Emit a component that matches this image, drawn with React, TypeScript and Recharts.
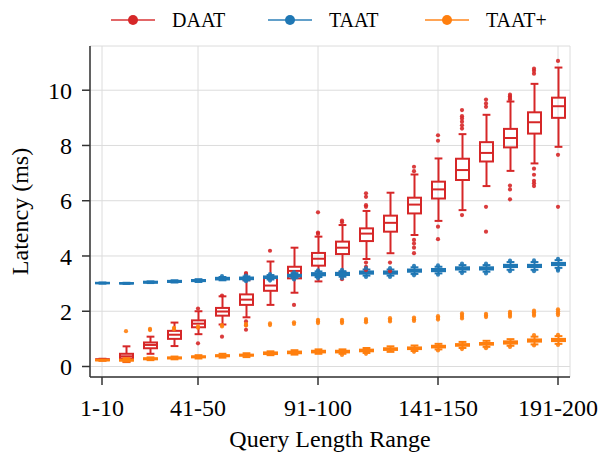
import React from "react";
import { Bar, CartesianGrid, ComposedChart, Legend, Scatter, XAxis, YAxis } from "recharts";

const CATEGORIES = [
  "1-10", "11-20", "21-30", "31-40", "41-50", "51-60", "61-70", "71-80", "81-90", "91-100",
  "101-110", "111-120", "121-130", "131-140", "141-150", "151-160", "161-170", "171-180", "181-190", "191-200",
];
const X_TICKS = [0, 4, 9, 14, 19];
const Y_TICKS = [0, 2, 4, 6, 8, 10];

// DAAT
const DAAT_LO = [0.22, 0.16, 0.46, 0.74, 1.17, 1.52, 1.78, 2.23, 2.67, 3.08, 3.42, 3.89, 4.1, 4.76, 5.27, 5.66, 6.53, 7.08, 7.35, 7.95];
const DAAT_Q1 = [0.24, 0.29, 0.66, 1.0, 1.42, 1.84, 2.23, 2.74, 3.19, 3.65, 4.07, 4.54, 4.88, 5.54, 6.08, 6.75, 7.42, 7.93, 8.43, 9.0];
const DAAT_MED = [0.25, 0.37, 0.78, 1.15, 1.55, 1.99, 2.42, 2.93, 3.46, 3.9, 4.3, 4.81, 5.2, 5.86, 6.41, 7.11, 7.73, 8.27, 8.84, 9.42];
const DAAT_Q3 = [0.26, 0.46, 0.87, 1.29, 1.67, 2.12, 2.61, 3.24, 3.61, 4.11, 4.52, 5.0, 5.46, 6.11, 6.69, 7.52, 8.12, 8.6, 9.2, 9.73];
const DAAT_HI = [0.28, 0.73, 1.08, 1.59, 2.0, 2.54, 3.12, 3.8, 4.3, 4.7, 5.12, 5.63, 6.29, 6.95, 7.53, 8.41, 9.11, 9.59, 10.23, 10.82];
const DAAT_OUT = [
  [], [], [], [], [2.1, 0.84], [2.57, 1.08], [3.34, 3.38, 1.63, 1.5, 1.33], [4.19], [2.23], [5.58, 4.85, 4.8],
  [5.22, 5.28, 3.16], [6.27, 6.14, 5.84, 5.78, 3.76, 3.61, 3.49], [3.76, 3.45], [7.23, 7.07, 4.58, 4.45, 4.3, 4.1],
  [8.37, 8.17, 5.06, 4.61], [9.28, 9.06, 8.98, 8.86, 8.73, 8.61, 5.48], [9.66, 9.52, 9.4, 5.78, 4.88],
  [9.84, 9.78, 9.72, 9.66, 6.55, 6.41, 6.05], [10.78, 10.7, 10.6, 7.16, 6.94, 6.72, 6.63, 6.53], [11.06, 7.66, 5.78],
];

// TAAT
const TAAT_LO = [3.0, 2.99, 3.02, 3.04, 3.06, 3.12, 3.12, 3.15, 3.2, 3.24, 3.25, 3.29, 3.29, 3.35, 3.37, 3.43, 3.43, 3.5, 3.5, 3.57];
const TAAT_Q1 = [3.01, 3.0, 3.03, 3.06, 3.09, 3.15, 3.16, 3.2, 3.26, 3.3, 3.31, 3.36, 3.36, 3.43, 3.45, 3.51, 3.51, 3.6, 3.6, 3.67];
const TAAT_MED = [3.02, 3.01, 3.05, 3.08, 3.11, 3.18, 3.19, 3.23, 3.29, 3.34, 3.35, 3.4, 3.4, 3.47, 3.49, 3.55, 3.55, 3.64, 3.64, 3.71];
const TAAT_Q3 = [3.03, 3.02, 3.07, 3.1, 3.13, 3.21, 3.22, 3.26, 3.32, 3.38, 3.39, 3.44, 3.44, 3.51, 3.53, 3.59, 3.59, 3.68, 3.68, 3.75];
const TAAT_HI = [3.04, 3.03, 3.08, 3.12, 3.16, 3.24, 3.26, 3.31, 3.38, 3.44, 3.45, 3.51, 3.51, 3.59, 3.61, 3.67, 3.67, 3.78, 3.78, 3.85];
const TAAT_OUT = [
  [], [], [], [], [], [3.27], [3.29, 3.09], [3.34, 3.11], [3.42, 3.15], [3.48, 3.19],
  [3.5, 3.2], [3.56, 3.24], [3.56, 3.24], [3.64, 3.3], [3.66, 3.32], [3.72, 3.38], [3.72, 3.37], [3.83, 3.45], [3.84, 3.45], [3.9, 3.47, 3.52],
];

// TAAT+
const PLUS_LO = [0.21, 0.17, 0.23, 0.26, 0.29, 0.32, 0.34, 0.41, 0.43, 0.46, 0.46, 0.49, 0.53, 0.56, 0.62, 0.67, 0.71, 0.75, 0.8, 0.82];
const PLUS_Q1 = [0.22, 0.21, 0.26, 0.29, 0.33, 0.37, 0.39, 0.45, 0.48, 0.51, 0.51, 0.55, 0.6, 0.63, 0.69, 0.75, 0.79, 0.83, 0.9, 0.92];
const PLUS_MED = [0.23, 0.23, 0.28, 0.31, 0.35, 0.39, 0.41, 0.48, 0.51, 0.54, 0.54, 0.58, 0.63, 0.66, 0.72, 0.78, 0.82, 0.87, 0.94, 0.96];
const PLUS_Q3 = [0.24, 0.25, 0.3, 0.33, 0.37, 0.41, 0.43, 0.51, 0.54, 0.57, 0.57, 0.61, 0.66, 0.69, 0.75, 0.81, 0.85, 0.91, 0.98, 1.0];
const PLUS_HI = [0.25, 0.3, 0.33, 0.36, 0.41, 0.46, 0.48, 0.55, 0.59, 0.62, 0.62, 0.67, 0.73, 0.76, 0.82, 0.89, 0.93, 0.99, 1.08, 1.1];
const PLUS_OUT = [
  [], [1.28], [1.32, 1.36], [1.35, 1.4], [1.4, 1.45], [1.45, 1.5], [1.48, 1.54], [1.5, 1.56], [1.54, 1.6], [1.57, 1.63, 1.69],
  [1.57, 1.63, 1.69, 0.42], [1.6, 1.66, 1.72, 0.46], [1.63, 1.69, 1.75], [1.65, 1.71, 1.77, 0.53], [1.7, 1.76, 1.82, 0.58],
  [1.74, 1.8, 1.86, 1.92, 0.63], [1.79, 1.85, 1.91, 0.66], [1.8, 1.86, 1.92, 1.98, 0.71], [1.84, 1.9, 1.96, 2.02, 1.14, 0.76],
  [1.86, 1.93, 2.0, 2.07, 1.15, 0.78],
];

const RED = "#d62728";
const BLUE = "#1f77b4";
const ORANGE = "#ff7f0e";
const FONT = "'Liberation Serif', 'Times New Roman', serif";

type Stats = { lo: number[]; q1: number[]; med: number[]; q3: number[]; hi: number[] };

const DAAT: Stats = { lo: DAAT_LO, q1: DAAT_Q1, med: DAAT_MED, q3: DAAT_Q3, hi: DAAT_HI };
const TAAT: Stats = { lo: TAAT_LO, q1: TAAT_Q1, med: TAAT_MED, q3: TAAT_Q3, hi: TAAT_HI };
const PLUS: Stats = { lo: PLUS_LO, q1: PLUS_Q1, med: PLUS_MED, q3: PLUS_Q3, hi: PLUS_HI };

const ROWS = CATEGORIES.map((name, i) => ({
  i,
  name,
  daat: [DAAT_LO[i], DAAT_HI[i]],
  taat: [TAAT_LO[i], TAAT_HI[i]],
  plus: [PLUS_LO[i], PLUS_HI[i]],
}));

const flatten = (out: number[][]) => out.flatMap((vals, i) => vals.map((v) => ({ i, v })));
const DAAT_FLIERS = flatten(DAAT_OUT);
const TAAT_FLIERS = flatten(TAAT_OUT);
const PLUS_FLIERS = flatten(PLUS_OUT);

const SERIES = [
  { name: "DAAT", color: RED },
  { name: "TAAT", color: BLUE },
  { name: "TAAT+", color: ORANGE },
];

// the bar spans lo..hi, so its height gives us px per unit for the box parts
function boxShape(s: Stats, color: string) {
  return (props: any) => {
    const { x, y, width, height, payload } = props;
    const i = payload.i;
    const top = Math.min(y, y + height);
    const k = Math.abs(height) / (s.hi[i] - s.lo[i]);
    const py = (v: number) => top + (s.hi[i] - v) * k;
    const cx = x + width / 2;
    const cap = width * 0.3;
    return (
      <g stroke={color} strokeWidth={2} fill="none">
        <line x1={cx} x2={cx} y1={py(s.hi[i])} y2={py(s.q3[i])} />
        <line x1={cx} x2={cx} y1={py(s.q1[i])} y2={py(s.lo[i])} />
        <line x1={cx - cap} x2={cx + cap} y1={py(s.hi[i])} y2={py(s.hi[i])} />
        <line x1={cx - cap} x2={cx + cap} y1={py(s.lo[i])} y2={py(s.lo[i])} />
        <rect x={x} y={py(s.q3[i])} width={width} height={Math.max(py(s.q1[i]) - py(s.q3[i]), 0.5)} />
        <line x1={x} x2={x + width} y1={py(s.med[i])} y2={py(s.med[i])} />
      </g>
    );
  };
}

const flierShape = (color: string) => (props: any) => (
  <circle cx={props.cx} cy={props.cy} r={2.1} fill={color} fillOpacity={0.9} />
);

function LegendContent() {
  return (
    <svg width={605} height={40} style={{ display: "block" }}>
      {SERIES.map((s, idx) => {
        const x0 = 111 + idx * 157;
        return (
          <g key={s.name}>
            <line x1={x0} x2={x0 + 44} y1={20} y2={20} stroke={s.color} strokeOpacity={0.7} strokeWidth={2} />
            <circle cx={x0 + 22} cy={20} r={5} fill={s.color} />
            <text x={x0 + 61} y={27} fontFamily={FONT} fontSize={20} fill="#000">
              {s.name}
            </text>
          </g>
        );
      })}
    </svg>
  );
}

const XTick = (props: any) => (
  <text x={props.x} y={props.y} dy="0.71em" textAnchor="middle" fontFamily={FONT} fontSize={24} fill="#000">
    {CATEGORIES[props.payload.value]}
  </text>
);

const YTick = (props: any) => (
  <text x={props.x} y={props.y} dy="0.355em" textAnchor="end" fontFamily={FONT} fontSize={24} fill="#000">
    {props.payload.value}
  </text>
);

const yLabel = (props: any) => {
  const vb = props.viewBox;
  const lx = vb.x + 28;
  const cy = vb.y + vb.height / 2;
  return (
    <text
      x={lx}
      y={cy}
      transform={`rotate(-90, ${lx}, ${cy})`}
      textAnchor="middle"
      fontFamily={FONT}
      fontSize={24}
      fill="#000"
    >
      Latency (ms)
    </text>
  );
};

const AXIS = "#333";

export default function App() {
  return (
    <div style={{ position: "absolute", left: 0, top: 0, background: "#fff", fontFamily: FONT }}>
      <ComposedChart width={605} height={453} data={ROWS} margin={{ top: 6, right: 35, bottom: 0, left: 0 }}>
        <CartesianGrid stroke="#dcdcdc" strokeWidth={1} />
        <XAxis
          type="number"
          dataKey="i"
          domain={[-0.5, 19.5]}
          ticks={X_TICKS}
          allowDataOverflow
          height={76}
          tickSize={8}
          tickMargin={14}
          tick={XTick}
          axisLine={{ stroke: AXIS, strokeWidth: 1.5 }}
          tickLine={{ stroke: AXIS, strokeWidth: 1.5 }}
          label={{ value: "Query Length Range", position: "insideBottom", offset: 6, fontSize: 24, fill: "#000", fontFamily: FONT }}
        />
        <XAxis xAxisId="t" type="number" dataKey="i" domain={[-0.5, 19.5]} allowDataOverflow hide />
        <XAxis xAxisId="p" type="number" dataKey="i" domain={[-0.5, 19.5]} allowDataOverflow hide />
        <XAxis
          xAxisId="top"
          orientation="top"
          type="number"
          dataKey="i"
          domain={[-0.5, 19.5]}
          height={0}
          tick={false}
          tickLine={false}
          axisLine={{ stroke: AXIS, strokeWidth: 1.5 }}
        />
        <YAxis
          type="number"
          domain={[-0.38, 11.6]}
          ticks={Y_TICKS}
          allowDataOverflow
          width={90}
          tickSize={8}
          tickMargin={10}
          tick={YTick}
          axisLine={{ stroke: AXIS, strokeWidth: 1.5 }}
          tickLine={{ stroke: AXIS, strokeWidth: 1.5 }}
          label={{ content: yLabel }}
        />
        <YAxis
          yAxisId="right"
          orientation="right"
          type="number"
          domain={[-0.38, 11.6]}
          width={0}
          tick={false}
          tickLine={false}
          axisLine={{ stroke: AXIS, strokeWidth: 1.5 }}
        />
        <Legend verticalAlign="top" content={LegendContent} wrapperStyle={{ left: 0, top: 0, width: 605 }} />
        <Bar dataKey="daat" name="DAAT" barSize={13} shape={boxShape(DAAT, RED)} isAnimationActive={false} />
        <Scatter data={DAAT_FLIERS} dataKey="v" name="DAAT outliers" shape={flierShape(RED)} legendType="none" isAnimationActive={false} />
        <Bar xAxisId="t" dataKey="taat" name="TAAT" barSize={13} shape={boxShape(TAAT, BLUE)} isAnimationActive={false} />
        <Scatter data={TAAT_FLIERS} dataKey="v" name="TAAT outliers" shape={flierShape(BLUE)} legendType="none" isAnimationActive={false} />
        <Bar xAxisId="p" dataKey="plus" name="TAAT+" barSize={13} shape={boxShape(PLUS, ORANGE)} isAnimationActive={false} />
        <Scatter data={PLUS_FLIERS} dataKey="v" name="TAAT+ outliers" shape={flierShape(ORANGE)} legendType="none" isAnimationActive={false} />
      </ComposedChart>
    </div>
  );
}
